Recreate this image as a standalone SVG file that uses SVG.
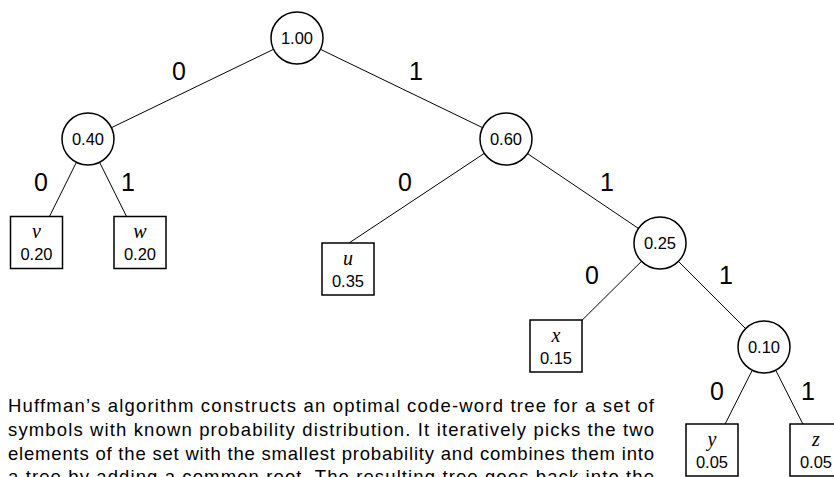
<svg xmlns="http://www.w3.org/2000/svg" width="834" height="477" viewBox="0 0 834 477">
<style>
.c{fill:#fff;stroke:#000;stroke-width:1.5}
.b{fill:#fff;stroke:#000;stroke-width:1.5}
.e{stroke:#000;stroke-width:1;fill:none}
.n{font-family:"Liberation Sans",Arial,sans-serif;font-size:16.5px;text-anchor:middle;fill:#000}
.s{font-family:"Liberation Serif","Times New Roman",serif;font-style:italic;font-size:20px;text-anchor:middle;fill:#000}
.l{font-family:"Liberation Sans",Arial,sans-serif;font-size:25px;text-anchor:middle;fill:#000}
.p{font-family:"Liberation Sans",Arial,sans-serif;font-size:18.5px;fill:#000}
</style>
<rect width="834" height="477" fill="#fff"/>
<g id="connectors">
<line class="e" x1="273.6" y1="49.3" x2="111.4" y2="127.7"/>
<line class="e" x1="320.4" y1="49.3" x2="482.6" y2="127.7"/>
<line class="e" x1="76.4" y1="162.3" x2="49.7" y2="216"/>
<line class="e" x1="99.6" y1="162.3" x2="126.3" y2="216"/>
<line class="e" x1="484.3" y1="153.4" x2="349" y2="243"/>
<line class="e" x1="527.5" y1="153.6" x2="638.4" y2="228.4"/>
<line class="e" x1="641.5" y1="261.3" x2="582" y2="320.3"/>
<line class="e" x1="678.4" y1="261.4" x2="745.6" y2="328.6"/>
<line class="e" x1="752.3" y1="370.2" x2="725.1" y2="424"/>
<line class="e" x1="775.7" y1="370.2" x2="802.9" y2="424"/>
</g>
<g id="edge-labels">
<text class="l" x="179" y="80">0</text>
<text class="l" x="416" y="80">1</text>
<text class="l" x="41" y="191">0</text>
<text class="l" x="128" y="191">1</text>
<text class="l" x="405" y="191">0</text>
<text class="l" x="607" y="191">1</text>
<text class="l" x="592" y="284">0</text>
<text class="l" x="726" y="284">1</text>
<text class="l" x="717" y="400">0</text>
<text class="l" x="808" y="400">1</text>
</g>
<g id="n100"><circle class="c" cx="297" cy="38" r="26"/><text class="n" x="297" y="44">1.00</text></g>
<g id="n040"><circle class="c" cx="88" cy="139" r="26"/><text class="n" x="88" y="145">0.40</text></g>
<g id="n060"><circle class="c" cx="506" cy="139" r="26"/><text class="n" x="506" y="145">0.60</text></g>
<g id="n025"><circle class="c" cx="660" cy="243" r="26"/><text class="n" x="660" y="249">0.25</text></g>
<g id="n010"><circle class="c" cx="764" cy="347" r="26"/><text class="n" x="764" y="353">0.10</text></g>
<g id="leaf-v"><rect class="b" x="10.5" y="216.5" width="52" height="52"/><text class="s" x="36.5" y="238">v</text><text class="n" x="36.5" y="260">0.20</text></g>
<g id="leaf-w"><rect class="b" x="114" y="216.5" width="52" height="52"/><text class="s" x="140" y="238">w</text><text class="n" x="140" y="260">0.20</text></g>
<g id="leaf-u"><rect class="b" x="322" y="243" width="52" height="52"/><text class="s" x="348" y="265">u</text><text class="n" x="348" y="287">0.35</text></g>
<g id="leaf-x"><rect class="b" x="530" y="320" width="52" height="52"/><text class="s" x="556" y="342">x</text><text class="n" x="556" y="364">0.15</text></g>
<g id="leaf-y"><rect class="b" x="686" y="424" width="52" height="52"/><text class="s" x="712" y="446">y</text><text class="n" x="712" y="468">0.05</text></g>
<g id="leaf-z"><rect class="b" x="790" y="424" width="52" height="52"/><text class="s" x="816" y="446">z</text><text class="n" x="816" y="468">0.05</text></g>
<g id="caption">
<text class="p" x="8" y="412" textLength="646" lengthAdjust="spacing">Huffman’s algorithm constructs an optimal code-word tree for a set of</text>
<text class="p" x="8" y="436" textLength="646" lengthAdjust="spacing">symbols with known probability distribution. It iteratively picks the two</text>
<text class="p" x="8" y="459.5" textLength="646" lengthAdjust="spacing">elements of the set with the smallest probability and combines them into</text>
<text class="p" x="8" y="483" textLength="646" lengthAdjust="spacing">a tree by adding a common root. The resulting tree goes back into the</text>
</g>
</svg>
